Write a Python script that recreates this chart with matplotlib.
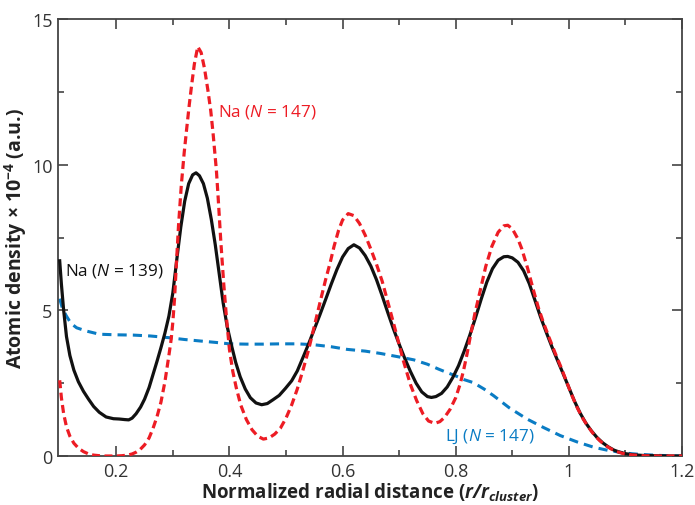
import matplotlib
matplotlib.use("Agg")
import matplotlib.pyplot as plt
from matplotlib.ticker import FixedLocator, FixedFormatter

plt.rcParams['font.family'] = ['Open Sans', 'DejaVu Sans']
plt.rcParams['mathtext.fontset'] = 'custom'
plt.rcParams['mathtext.rm'] = 'Open Sans'
plt.rcParams['mathtext.it'] = 'Open Sans:italic'
plt.rcParams['mathtext.bf'] = 'Open Sans:bold'
plt.rcParams['mathtext.bfit'] = 'Open Sans:italic:bold'

# ---------------- data ----------------
black_x = [0.100,0.103,0.107,0.112,0.118,0.125,0.133,0.142,0.151,0.160,0.170,0.182,0.195,0.205,0.215,0.222,
           0.228,0.235,0.243,0.250,0.258,0.265,0.272,0.279,0.286,0.293,0.300,0.307,0.314,0.321,0.328,0.335,
           0.341,0.347,0.354,0.361,0.368,0.375,0.382,0.389,0.396,0.403,0.411,0.419,0.428,0.437,0.447,0.457,
           0.467,0.477,0.488,0.499,0.510,0.520,0.530,0.540,0.550,0.560,0.570,0.580,0.590,0.600,0.610,0.620,
           0.630,0.640,0.650,0.660,0.670,0.680,0.690,0.700,0.710,0.720,0.730,0.740,0.750,0.757,0.765,0.775,
           0.785,0.795,0.805,0.815,0.825,0.835,0.845,0.855,0.865,0.875,0.885,0.892,0.900,0.910,0.920,0.930,
           0.940,0.950,0.960,0.970,0.980,0.990,1.000,1.010,1.020,1.030,1.040,1.050,1.060,1.070,1.080,1.090,
           1.100,1.115,1.130,1.150,1.175,1.200]
black_y = [6.70,5.90,5.00,4.10,3.45,2.95,2.55,2.22,1.95,1.70,1.50,1.34,1.28,1.27,1.25,1.24,
           1.30,1.45,1.68,1.95,2.35,2.80,3.25,3.72,4.22,4.80,5.60,6.75,7.85,8.75,9.35,9.65,
           9.72,9.62,9.35,8.85,8.12,7.25,6.25,5.25,4.45,3.85,3.22,2.72,2.30,2.00,1.82,1.76,
           1.80,1.93,2.08,2.32,2.58,2.92,3.38,3.85,4.35,4.85,5.37,5.90,6.40,6.83,7.12,7.25,
           7.14,6.88,6.52,6.05,5.50,4.92,4.36,3.84,3.35,2.90,2.50,2.20,2.04,2.01,2.04,2.15,
           2.37,2.70,3.10,3.60,4.15,4.75,5.38,5.97,6.43,6.72,6.84,6.85,6.80,6.65,6.36,5.92,
           5.35,4.77,4.25,3.75,3.28,2.82,2.35,1.88,1.47,1.13,0.86,0.63,0.45,0.31,0.20,0.13,
           0.08,0.04,0.02,0.01,0.00,0.00]

red_x = [0.100,0.103,0.107,0.112,0.118,0.125,0.133,0.142,0.151,0.160,0.170,0.180,0.190,0.200,0.210,0.220,
         0.228,0.235,0.242,0.250,0.258,0.265,0.272,0.279,0.286,0.293,0.297,0.300,0.303,0.306,0.310,0.315,
         0.320,0.324,0.329,0.333,0.338,0.344,0.350,0.356,0.362,0.367,0.371,0.377,0.380,0.385,0.390,0.395,
         0.400,0.406,0.412,0.420,0.430,0.440,0.450,0.460,0.470,0.480,0.490,0.500,0.510,0.520,0.530,0.540,
         0.550,0.560,0.570,0.578,0.585,0.593,0.600,0.610,0.620,0.630,0.640,0.650,0.660,0.670,0.684,0.695,
         0.707,0.720,0.731,0.742,0.752,0.763,0.772,0.780,0.790,0.800,0.808,0.814,0.820,0.826,0.834,0.843,
         0.853,0.864,0.875,0.885,0.892,0.900,0.910,0.917,0.927,0.937,0.946,0.955,0.965,0.975,0.985,0.995,
         1.005,1.015,1.025,1.035,1.045,1.055,1.065,1.075,1.085,1.095,1.110,1.130,1.150,1.200]
red_y = [2.60,2.00,1.45,1.00,0.68,0.44,0.27,0.15,0.07,0.03,0.01,0.00,0.00,0.00,0.01,0.03,
         0.07,0.13,0.22,0.38,0.62,0.95,1.35,1.85,2.55,3.45,4.00,4.60,5.40,6.50,7.90,9.30,
         10.40,11.15,12.05,12.70,13.45,14.05,13.85,13.30,12.55,11.85,11.10,9.80,8.90,7.30,5.90,4.70,
         3.66,2.90,2.35,1.75,1.25,0.90,0.68,0.58,0.62,0.75,0.95,1.30,1.75,2.30,2.95,3.65,
         4.45,5.26,6.05,6.63,7.20,7.75,8.10,8.32,8.25,7.98,7.58,7.10,6.58,6.00,5.00,4.20,
         3.30,2.45,1.90,1.45,1.20,1.12,1.18,1.32,1.60,2.00,2.48,2.95,3.50,4.12,4.90,5.65,
         6.50,7.20,7.68,7.90,7.92,7.80,7.45,7.10,6.45,5.72,5.10,4.58,4.07,3.57,3.10,2.60,
         2.10,1.65,1.28,0.98,0.72,0.52,0.36,0.24,0.15,0.09,0.04,0.01,0.00,0.00]

lj_x = [0.100,0.105,0.112,0.120,0.130,0.147,0.170,0.200,0.230,0.260,0.294,0.320,0.347,0.375,0.400,0.430,
        0.460,0.490,0.520,0.549,0.580,0.608,0.640,0.667,0.700,0.726,0.750,0.770,0.784,0.800,0.815,0.831,
        0.850,0.867,0.895,0.926,0.955,0.985,1.015,1.044,1.070,1.090,1.110,1.130,1.160,1.200]
lj_y = [5.40,5.05,4.80,4.55,4.40,4.29,4.18,4.16,4.15,4.12,4.06,4.00,3.95,3.90,3.85,3.84,
        3.84,3.85,3.85,3.82,3.75,3.66,3.60,3.52,3.40,3.30,3.15,2.98,2.87,2.75,2.62,2.52,
        2.30,2.07,1.65,1.27,0.98,0.70,0.48,0.30,0.19,0.13,0.08,0.05,0.02,0.00]

x_major = [0.2, 0.4, 0.6, 0.8, 1.0, 1.2]
x_labels = ['0.2', '0.4', '0.6', '0.8', '1', '1.2']
x_minor = [0.3, 0.5, 0.7, 0.9, 1.1]
y_major = [0, 5, 10, 15]
y_labels = ['0', '5', '10', '15']
y_minor = [2.5, 7.5, 12.5]

RED = '#ED1C24'
BLUE = '#0A7CC4'
BLACK = '#111111'

fig = plt.figure(figsize=(6.95, 5.06), dpi=100)
ax = fig.add_axes([58/695, 1-457/506, (682-58)/695, (457-20)/506])

ax.plot(lj_x, lj_y, color=BLUE, lw=2.2, linestyle=(0, (3.0, 2.0)), zorder=2)
ax.plot(black_x, black_y, color=BLACK, lw=2.3, linestyle='-', zorder=3,
        solid_joinstyle='round')
ax.plot(red_x, red_y, color=RED, lw=2.3, linestyle=(0, (2.5, 1.4)), zorder=4)

ax.set_xlim(0.097, 1.2)
ax.set_ylim(0, 15)

ax.xaxis.set_major_locator(FixedLocator(x_major))
ax.xaxis.set_major_formatter(FixedFormatter(x_labels))
ax.xaxis.set_minor_locator(FixedLocator(x_minor))
ax.yaxis.set_major_locator(FixedLocator(y_major))
ax.yaxis.set_major_formatter(FixedFormatter(y_labels))
ax.yaxis.set_minor_locator(FixedLocator(y_minor))

ax.tick_params(which='both', direction='in', top=True, right=True, color='#444444', width=1.2)
ax.tick_params(which='major', length=7, labelsize=13, labelcolor='#333333', pad=4)
ax.tick_params(which='minor', length=4)
for s in ax.spines.values():
    s.set_color('#444444')
    s.set_linewidth(1.3)

ax.set_xlabel(r'Normalized radial distance ($\mathbfit{r/r}_{\mathbfit{cluster}}$)',
              fontsize=13.5, fontweight='bold', color='#222222', labelpad=0)
ax.set_ylabel(r'Atomic density × 10$^{\mathbf{-4}}$ (a.u.)',
              fontsize=14, fontweight='bold', color='#222222', labelpad=2)

ax.text(0.379, 11.85, r'Na ($N$ = 147)', color=RED, fontsize=12.3, va='center', ha='left')
ax.text(0.110, 6.4, r'Na ($N$ = 139)', color=BLACK, fontsize=12.3, va='center', ha='left')
ax.text(0.781, 0.68, r'LJ ($N$ = 147)', color=BLUE, fontsize=12.3, va='center', ha='left')

fig.savefig('out.png', dpi=100)
